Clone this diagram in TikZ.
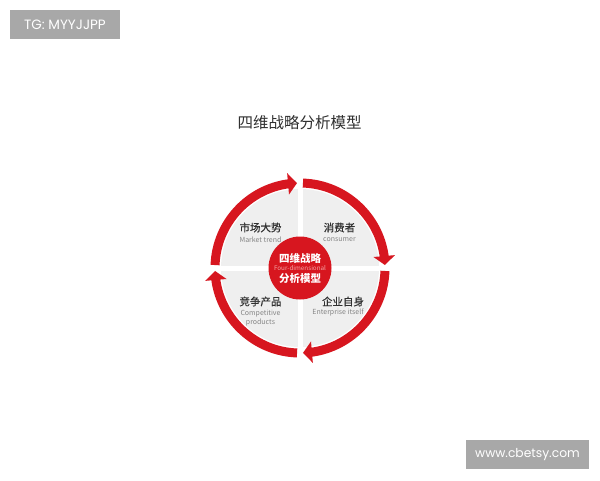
\documentclass[tikz,border=0pt]{standalone}
\usepackage{fontspec}
\setmainfont{Noto Sans CJK SC}
\newfontfamily\cjkmed[FakeBold=0.4]{Noto Sans CJK SC}
\newfontfamily\wmfont{Poppins}
\usetikzlibrary{arrows.meta,bending}
\definecolor{ringred}{HTML}{D7161F}
\definecolor{quadgrey}{HTML}{EFEFEF}
\definecolor{wmgrey}{HTML}{A8A8A8}
\definecolor{txtdark}{HTML}{303030}
\definecolor{txtlight}{HTML}{858585}
\definecolor{pinktxt}{HTML}{F4A6A6}
\tikzset{
  ringarrow/.style={draw=ringred, line width=9pt, -{Triangle[length=9pt,width=21pt,flex]}},
  cnlabel/.style={text=txtdark, font=\cjkmed\fontsize{10.5}{12}\selectfont, inner sep=0pt},
  enlabel/.style={text=txtlight, font=\fontsize{7}{9}\selectfont, inner sep=0pt, align=center},
  wmbox/.style={fill=wmgrey, text=white, inner sep=0pt, font=\wmfont},
}
\begin{document}
\begin{tikzpicture}[x=1pt,y=-1pt]
\useasboundingbox[fill=white] (0,0) rectangle (600,480);
% watermarks
\node[wmbox, minimum width=110pt, minimum height=29pt, font=\wmfont\fontsize{13.5}{15}\selectfont] (tg) at (65,24.5) {TG: MYYJJPP};
\node[wmbox, minimum width=123pt, minimum height=29pt, font=\wmfont\fontsize{12.3}{14}\selectfont] (web) at (527.5,454.5) {www.cbetsy.com};
% title
\node[text=txtdark, font=\fontsize{15.5}{18}\selectfont, inner sep=0pt] (title) at (299.5,123) {四维战略分析模型};
% center
\coordinate (c) at (300,268);
\fill[quadgrey] (c) circle[radius=79];
\draw[white, line width=5pt] ([xshift=-82pt]c) -- ([xshift=82pt]c);
\draw[white, line width=5pt] ([yshift=-82pt]c) -- ([yshift=82pt]c);
% ring arrows (clockwise on page)
\draw[ringarrow] ([shift={(182:85)}]c) arc[start angle=182, end angle=268, radius=85];
\draw[ringarrow] ([shift={(272:85)}]c) arc[start angle=272, end angle=358, radius=85];
\draw[ringarrow] ([shift={(2:85)}]c) arc[start angle=2, end angle=88, radius=85];
\draw[ringarrow] ([shift={(92:85)}]c) arc[start angle=92, end angle=178, radius=85];
% center disc
\node[circle, fill=ringred, minimum size=63pt, inner sep=0pt] (hub) at (c) {};
\node[text=white, font=\bfseries\fontsize{10.5}{12}\selectfont, inner sep=0pt] (hub1) at (300,258.5) {四维战略};
\node[text=pinktxt, font=\fontsize{6.3}{7}\selectfont, inner sep=0pt] (hub2) at (300,268.5) {Four-dimensional};
\node[text=white, font=\bfseries\fontsize{10.5}{12}\selectfont, inner sep=0pt] (hub3) at (300,278.5) {分析模型};
% quadrant labels
\node[cnlabel] (q1) at (260.5,227.5) {市场大势};
\node[enlabel] (q1e) at (260.5,239.5) {Market trend};
\node[cnlabel] (q2) at (339.5,227.5) {消费者};
\node[enlabel] (q2e) at (339.5,239.5) {consumer};
\node[cnlabel] (q3) at (260.5,301.5) {竞争产品};
\node[enlabel] (q3e) at (260.5,318) {Competitive\\products};
\node[cnlabel] (q4) at (343,301.5) {企业自身};
\node[enlabel] (q4e) at (338,312.5) {Enterprise itself};
\end{tikzpicture}
\end{document}
